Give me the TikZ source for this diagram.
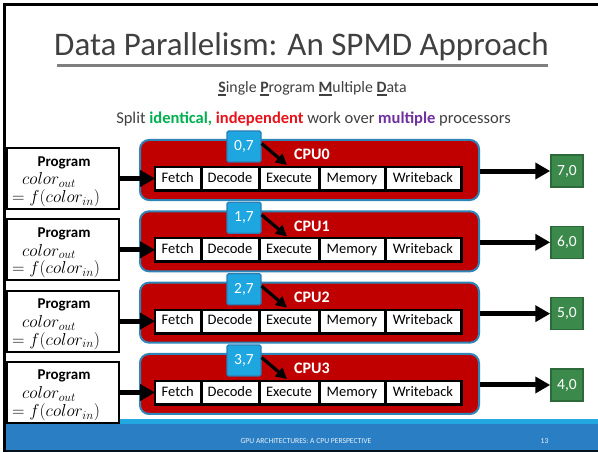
\documentclass[tikz,border=0pt]{standalone}
\usepackage{fontspec}
\setmainfont{Carlito}
\usetikzlibrary{arrows.meta}

\definecolor{cpured}{HTML}{C00000}
\definecolor{cpuedge}{HTML}{2E86B8}
\definecolor{datafill}{HTML}{1DA6E0}
\definecolor{dataedge}{HTML}{2A7DB5}
\definecolor{outfill}{HTML}{3B8A4C}
\definecolor{outedge}{HTML}{2C6A3A}
\definecolor{inkgray}{HTML}{404040}
\definecolor{rulegray}{HTML}{7F7F7F}
\definecolor{footdark}{HTML}{2A7FC4}
\definecolor{footlight}{HTML}{22A7E0}
\definecolor{goodgreen}{HTML}{00B050}
\definecolor{alertred}{HTML}{E8131B}
\definecolor{purp}{HTML}{7030A0}

% bold initial with a heavy bar beneath it
\newcommand\keyletter[1]{\setbox0\hbox{\textbf{#1}}\rlap{\color{inkgray}\rule[-3pt]{\wd0}{1.8pt}}\box0}

\tikzset{
  cpubox/.style={fill=cpured, draw=cpuedge, line width=2pt, rounded corners=9pt,
    minimum width=339pt, minimum height=60pt, inner sep=0pt},
  strip/.style={fill=black, minimum width=309pt, minimum height=26pt, inner sep=0pt},
  stagebox/.style={fill=white, draw=black, line width=0.8pt, inner sep=0pt,
    minimum height=22pt, text height=10.5pt, text depth=3pt,
    font=\fontsize{14.5}{16}\selectfont},
  databox/.style={fill=datafill, draw=dataedge, line width=1.2pt, rounded corners=1.5pt,
    minimum width=34pt, minimum height=31pt, inner sep=0pt, text=white,
    font=\fontsize{15.5}{17}\selectfont},
  outbox/.style={fill=outfill, draw=outedge, line width=1.5pt,
    minimum width=32pt, minimum height=32pt, inner sep=0pt, text=white,
    font=\fontsize{15.5}{17}\selectfont},
  progbox/.style={fill=white, draw=black, line width=2pt,
    minimum width=112pt, minimum height=61pt, inner sep=0pt},
  cpulabel/.style={text=white, font=\bfseries\fontsize{16}{18}\selectfont, inner sep=0pt},
  progtext/.style={inner sep=0pt, font=\fontsize{15}{17}\selectfont},
  mathtext/.style={inner sep=0pt, font=\fontsize{16.5}{18}\selectfont},
  feed/.style={line width=5pt, -{Triangle[length=15pt,width=16pt]}},
  fetchline/.style={line width=3.2pt, -{Triangle[length=11pt,width=11pt]}},
}

\begin{document}
\begin{tikzpicture}[x=1pt,y=-1pt]
\useasboundingbox (0,0) rectangle (598,452);
\fill[white] (0,0) rectangle (598,452);

% slide frame
\fill[black] (3,3) rectangle (598,6);

% footer band
\fill[footlight] (6,419) rectangle (598,423.5);
\fill[footdark] (6,423.5) rectangle (598,450);
\fill[black!85!footdark] (3,450) rectangle (598,452);
\node[text=white!90!footdark, font=\fontsize{7.6}{8}\selectfont, inner sep=0pt] (foot) at (306,441.5) {GPU ARCHITECTURES: A CPU PERSPECTIVE};
\node[text=white!90!footdark, font=\fontsize{7.6}{8}\selectfont, inner sep=0pt] (pageno) at (544.5,441.5) {13};

% title and rule
\node[anchor=base, text=inkgray, font=\fontsize{33}{38}\selectfont, inner sep=0pt] (title) at (301.5,56) {Data Parallelism: An SPMD Approach};
\fill[rulegray] (57,64.5) rectangle (548,67);

\node[anchor=base, text=inkgray, font=\fontsize{15.8}{18}\selectfont, inner sep=0pt] (spmd) at (312.5,93)
  {\keyletter{S}ingle \keyletter{P}rogram \keyletter{M}ultiple \keyletter{D}ata};
\node[anchor=base, text=inkgray, font=\fontsize{16.5}{18}\selectfont, inner sep=0pt] (split) at (313.5,123.5)
  {Split \textcolor{goodgreen}{\textbf{identical,}} \textcolor{alertred}{\textbf{independent}} work over \textcolor{purp}{\textbf{multiple}} processors};

% four identical processor lanes
\foreach \i/\din/\dout in {0/{0,7}/{7,0}, 1/{1,7}/{6,0}, 2/{2,7}/{5,0}, 3/{3,7}/{4,0}} {
  \pgfmathsetmacro\dy{71.33*\i}
  \node[cpubox] (cpu\i) at (309.5,170+\dy) {};
  \node[cpulabel] (cpuname\i) at (312,154.5+\dy) {CPU\i};
  \node[strip] (strip\i) at (308.5,179+\dy) {};
  \node[stagebox, minimum width=44.5pt] (f\i) at (177.75,178.5+\dy) {Fetch};
  \node[stagebox, minimum width=56pt] (d\i) at (230,178.5+\dy) {Decode};
  \node[stagebox, minimum width=58pt] (e\i) at (289,178.5+\dy) {Execute};
  \node[stagebox, minimum width=64pt] (m\i) at (352,178.5+\dy) {Memory};
  \node[stagebox, minimum width=74pt] (w\i) at (423,178.5+\dy) {Writeback};
  \node[databox] (data\i) at (244,146.5+\dy) {\din};
  \coordinate (hit\i) at (287,165+\dy);
  \draw[fetchline] ([yshift=3pt]data\i.east) -- (hit\i);
  \node[outbox] (out\i) at (567,171+\dy) {\dout};
  \draw[feed] (cpu\i.east |- out\i.west) -- (out\i.west);
  \node[progbox] (prog\i) at (63,178.5+\dy) {};
  \node[progtext, anchor=base] (pname\i) at (64,166+\dy) {\textbf{Program}};
  \node[mathtext, anchor=base west] (pout\i) at (22,185+\dy) {$color_{out}$};
  \node[mathtext, anchor=base west] (pin\i) at (12,202.5+\dy) {$= f(color_{in})$};
  \draw[feed] (prog\i.east) -- (prog\i.east -| f\i.west);
}

% left edge of the frame
\fill[black] (3,3) rectangle (6,452);
\end{tikzpicture}
\end{document}
